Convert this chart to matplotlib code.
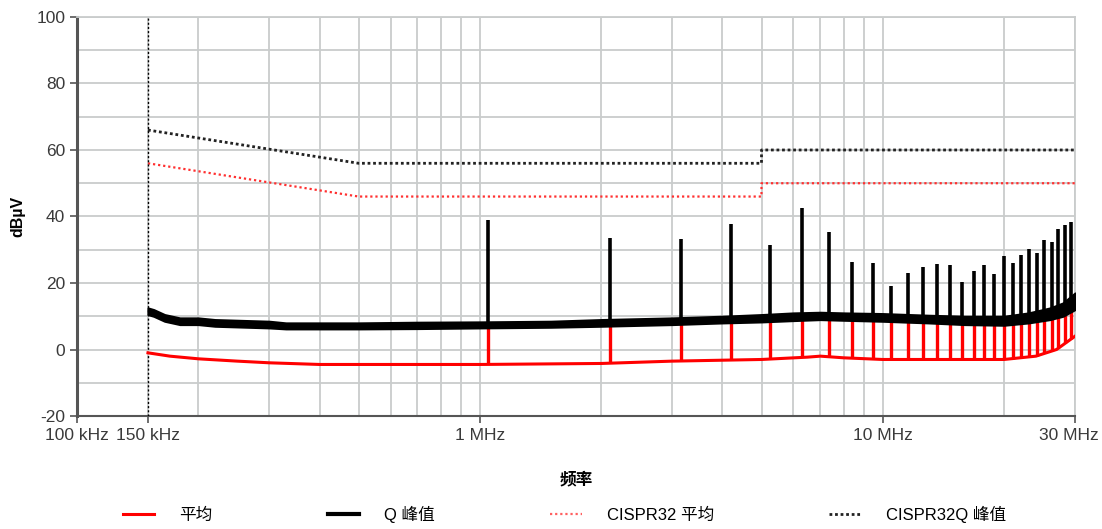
import numpy as np
import matplotlib
matplotlib.use("Agg")
import matplotlib.pyplot as plt
from matplotlib.ticker import FixedLocator, LogLocator, NullFormatter
from matplotlib.lines import Line2D
import matplotlib.transforms as mtransforms

plt.rcParams['font.family'] = ['Liberation Sans', 'Noto Sans CJK SC', 'DejaVu Sans']
plt.rcParams['axes.unicode_minus'] = False

# ---------------- data (frequencies in Hz, levels in dBuV) ----------------
# Quasi-peak noise floor (black): lower / upper edge of the noisy trace
qp_floor_f = [0.15e6, 0.155e6, 0.165e6, 0.18e6, 0.2e6, 0.22e6, 0.3e6, 0.33e6, 0.5e6,
              0.7e6, 1.0e6, 1.5e6, 2.0e6, 3.0e6, 4.0e6, 5.0e6, 6.0e6, 7.0e6, 8.0e6,
              10e6, 13e6, 16e6, 20e6, 23e6, 26e6, 28e6, 30e6]
qp_floor_lo = [10.5, 10.0, 8.5, 7.5, 7.5, 7.0, 6.5, 6.2, 6.2,
               6.3, 6.5, 6.7, 7.0, 7.5, 8.0, 8.3, 8.7, 9.0, 8.8,
               8.5, 8.0, 7.5, 7.3, 8.0, 9.0, 10.0, 12.0]
qp_floor_hi = [12.5, 12.0, 10.5, 9.5, 9.5, 9.0, 8.5, 8.0, 8.0,
               8.2, 8.3, 8.5, 9.0, 9.5, 10.0, 10.5, 11.0, 11.2, 11.0,
               10.8, 10.3, 10.0, 10.0, 11.0, 12.5, 14.0, 17.0]

# Average floor (red)
avg_floor_f = [0.15e6, 0.17e6, 0.2e6, 0.25e6, 0.3e6, 0.4e6, 1.0e6, 2.0e6, 3.0e6,
               5.0e6, 6.5e6, 7.0e6, 8.0e6, 10e6, 15e6, 20e6, 24e6, 27e6, 30e6]
avg_floor_db = [-1.0, -2.0, -2.8, -3.5, -4.0, -4.5, -4.5, -4.2, -3.5,
                -3.0, -2.3, -2.0, -2.5, -3.0, -3.0, -3.0, -2.0, 0.0, 4.0]

# Harmonic spikes (quasi-peak tops)
spike_f = [1.05e6, 2.10e6, 3.15e6, 4.20e6, 5.25e6, 6.30e6, 7.35e6, 8.40e6, 9.45e6,
           10.5e6, 11.55e6, 12.6e6, 13.65e6, 14.7e6, 15.75e6, 16.8e6, 17.85e6, 18.9e6,
           19.95e6, 21.0e6, 22.05e6, 23.1e6, 24.15e6, 25.2e6, 26.25e6, 27.3e6, 28.35e6, 29.4e6]
spike_qp = [39.0, 33.5, 33.2, 37.8, 31.5, 42.6, 35.2, 26.4, 25.9,
            19.0, 22.9, 24.9, 25.8, 25.5, 20.4, 23.6, 25.3, 22.8,
            28.1, 25.9, 28.5, 30.3, 29.1, 33.0, 32.3, 36.1, 37.4, 38.3]

# CISPR 32 limits
lim_f = [0.15e6, 0.5e6, 5.0e6, 5.0e6, 30e6]
lim_qp = [66, 56, 56, 60, 60]
lim_avg = [56, 46, 46, 50, 50]

xtick_vals = [100e3, 150e3, 1e6, 10e6, 30e6]
xtick_labels = ['100 kHz', '150 kHz', '1 MHz', '10 MHz', '30 MHz']
ytick_vals = [-20, 0, 20, 40, 60, 80, 100]

legend_labels = ['平均', 'Q 峰值', 'CISPR32 平均', 'CISPR32Q 峰值']

# ---------------- figure ----------------
fig = plt.figure(figsize=(11.02, 5.29), dpi=100)
ax = fig.add_axes([0.0699, 0.2136, 0.9056, 0.7543])

grid_c = '#c9cccc'
ax.set_xscale('log')
ax.set_xlim(100e3, 30e6)
ax.set_ylim(-20, 100)

# grid
ax.xaxis.set_minor_locator(LogLocator(base=10, subs=np.arange(2, 10)))
ax.xaxis.set_minor_formatter(NullFormatter())
ax.yaxis.set_minor_locator(FixedLocator(np.arange(-20, 101, 10)))
ax.grid(which='minor', axis='both', color=grid_c, lw=1.3)
ax.grid(which='major', axis='both', color=grid_c, lw=1.3)
ax.tick_params(which='minor', length=0)
ax.set_axisbelow(True)

# limit lines
ax.plot(lim_f, lim_avg, color='#ff3030', lw=1.6, ls=(0, (1, 1.3)), zorder=3)
ax.plot(lim_f, lim_qp, color='#222222', lw=2.0, ls=(0, (1, 1.0)), zorder=3)
ax.axvline(150e3, color='black', lw=1.0, ls=(0, (1.5, 1.5)), zorder=3)

# average trace (red)
sf = np.array(spike_f)
qp_mid = (np.array(qp_floor_lo) + np.array(qp_floor_hi)) / 2
ax.plot(avg_floor_f, avg_floor_db, color='#ff0000', lw=2.2, zorder=4)
red_base = np.interp(np.log10(sf), np.log10(avg_floor_f), avg_floor_db)
red_top = np.interp(np.log10(sf), np.log10(qp_floor_f), qp_mid)
ax.vlines(sf, red_base, red_top, color='#ff0000', lw=2.4, zorder=4)

# quasi-peak trace (black)
ax.fill_between(qp_floor_f, qp_floor_lo, qp_floor_hi, color='black', lw=1.5,
                edgecolor='black', zorder=5)
blk_base = np.interp(np.log10(sf), np.log10(qp_floor_f), qp_mid)
ax.vlines(sf, blk_base, spike_qp, color='black', lw=2.6, zorder=5)

# ticks
ax.set_xticks(xtick_vals)
ax.set_xticklabels(xtick_labels)
ax.set_yticks(ytick_vals)
ax.tick_params(which='major', axis='both', labelsize=12.5, labelcolor='#3a3a3a',
               color='#555555', length=5, width=1.2)
last = ax.get_xticklabels()[-1]
last.set_transform(last.get_transform() +
                   mtransforms.ScaledTranslation(-6 / 100, 0, fig.dpi_scale_trans))

for s in ['top', 'right']:
    ax.spines[s].set_color(grid_c)
    ax.spines[s].set_linewidth(1.3)
ax.spines['left'].set_color('#555555')
ax.spines['left'].set_linewidth(2.2)
ax.spines['bottom'].set_color('#555555')
ax.spines['bottom'].set_linewidth(1.5)

ax.set_ylabel('dBµV', fontsize=11.5, fontweight='bold', labelpad=8)
ax.set_xlabel('频率', fontsize=12, fontweight='bold', labelpad=20,
              family=['Noto Sans CJK SC', 'DejaVu Sans'])

handles = [
    Line2D([], [], color='#ff0000', lw=2.2),
    Line2D([], [], color='black', lw=3),
    Line2D([], [], color='#ff6060', lw=1.6, ls=(0, (1, 1.3))),
    Line2D([], [], color='#222222', lw=2.0, ls=(0, (1, 1.0))),
]
fig.legend(handles, legend_labels, loc='center', bbox_to_anchor=(0.512, 0.028),
           ncol=4, frameon=False, handlelength=1.9,
           handletextpad=1.5, columnspacing=6.9,
           prop={'family': ['Liberation Sans', 'Noto Sans CJK SC'], 'size': 12})

fig.savefig('out.png', dpi=100)
